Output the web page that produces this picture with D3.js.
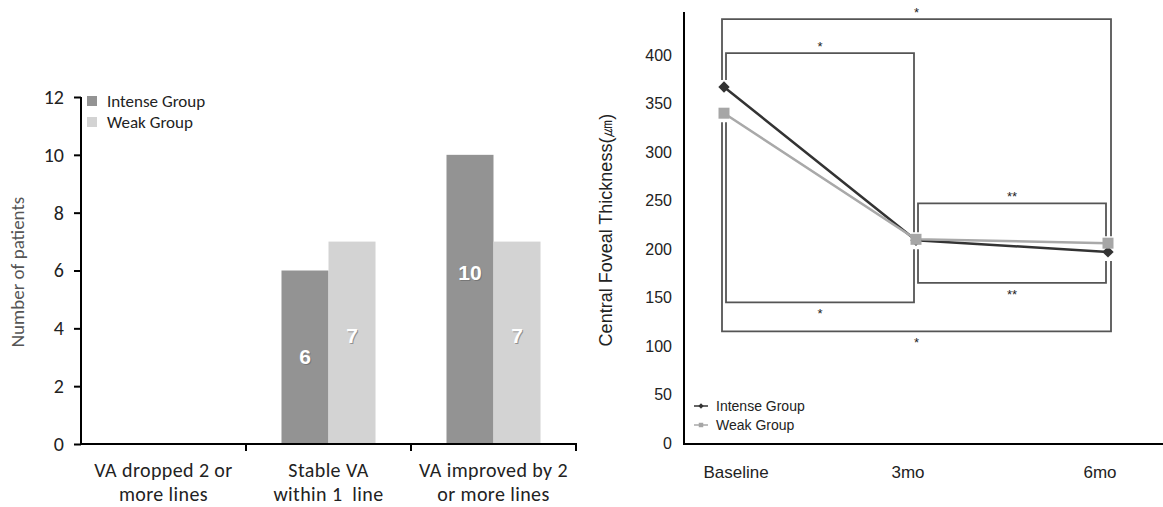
<!DOCTYPE html>
<html lang="en">
<head>
<meta charset="UTF-8">
<script src="https://cdn.jsdelivr.net/npm/d3@7"></script>
<title>VA change and central foveal thickness</title>
<style>
    body { margin:0; background:#fff; }
    .cal { font-family: Carlito, Calibri, Lato, sans-serif; }
    .ari { font-family: "Liberation Sans", Arial, sans-serif; }
    .pre { white-space: pre; }
</style>
</head>
<body>
<div id="chart"></div>
<script>

// left chart data
var categories = [["VA dropped 2 or", "more lines"], ["Stable VA", "within 1  line"], ["VA improved by 2", "or more lines"]];
var groups = ["Intense Group", "Weak Group"];
var intenseCounts = [0, 6, 10];
var weakCounts = [0, 7, 7];
var countTicks = [0, 2, 4, 6, 8, 10, 12];

// right chart data
var times = ["Baseline", "3mo", "6mo"];
var intenseCFT = [367, 209, 197];
var weakCFT = [340, 210, 206];
var cftTicks = [0, 50, 100, 150, 200, 250, 300, 350, 400];
// significance brackets: from, to, level (in um), label
var brackets = [
    ["Baseline", "6mo", 437, "*"],
    ["Baseline", "3mo", 402, "*"],
    ["3mo", "6mo", 247, "**"],
    ["3mo", "6mo", 165, "**"],
    ["Baseline", "3mo", 145, "*"],
    ["Baseline", "6mo", 115, "*"]
];

var barColor = ["#939393", "#d3d3d3"];
var lineColor = ["#333333", "#a9a9a9"];

var svg = d3.select("#chart").append("svg")
    .attr("width", 1163)
    .attr("height", 507);

// ---------- left: bar chart ----------
var catKeys = categories.map(function(c) { return c.join(" "); });
var xL = d3.scaleBand().domain(catKeys).range([81, 576]);
var xSub = d3.scaleBand().domain(groups).range([0, xL.bandwidth()]).paddingOuter(0.755);
var yL = d3.scaleLinear().domain([0, 12]).range([444, 97]);

var left = svg.append("g").attr("class", "cal");

var barRows = [];
catKeys.forEach(function(k, i) {
    barRows.push({cat: k, g: groups[0], v: intenseCounts[i], c: barColor[0]});
    barRows.push({cat: k, g: groups[1], v: weakCounts[i], c: barColor[1]});
});

left.selectAll(".bar")
    .data(barRows)
    .enter()
    .append("rect")
    .attr("class", "bar")
    .attr("x", function(d) { return xL(d.cat) + xSub(d.g); })
    .attr("width", xSub.bandwidth())
    .attr("y", function(d) { return yL(d.v); })
    .attr("height", function(d) { return yL(0) - yL(d.v); })
    .attr("fill", function(d) { return d.c; });

// value labels inside bars
var labelRows = barRows.filter(function(d) { return d.v > 0; });
function labelY(d) { return yL(d.v / 2) - (d.v - 6) * 6.5 + 7; }
left.selectAll(".lblshadow")
    .data(labelRows)
    .enter()
    .append("text")
    .attr("class", "ari")
    .attr("x", function(d) { return xL(d.cat) + xSub(d.g) + xSub.bandwidth() / 2 + 1; })
    .attr("y", function(d) { return labelY(d) + 1; })
    .attr("text-anchor", "middle")
    .attr("font-size", 21)
    .attr("font-weight", "bold")
    .attr("fill", "#666")
    .attr("opacity", 0.6)
    .text(function(d) { return d.v; });
left.selectAll(".lbl")
    .data(labelRows)
    .enter()
    .append("text")
    .attr("class", "ari")
    .attr("x", function(d) { return xL(d.cat) + xSub(d.g) + xSub.bandwidth() / 2; })
    .attr("y", labelY)
    .attr("text-anchor", "middle")
    .attr("font-size", 21)
    .attr("font-weight", "bold")
    .attr("fill", "#fff")
    .text(function(d) { return d.v; });

// y axis
var yAxisL = d3.axisLeft(yL).tickValues(countTicks).tickSize(7).tickPadding(10);
var gyL = left.append("g")
    .attr("transform", "translate(81,0)")
    .call(yAxisL);
gyL.select(".domain").attr("d", "M0," + yL(12) + "V" + yL(0)).attr("stroke", "#000").attr("stroke-width", 2);
gyL.selectAll(".tick line").attr("stroke", "#000").attr("stroke-width", 2);
gyL.selectAll(".tick text").attr("font-size", 20).attr("fill", "#222").attr("font-family", "Carlito, Calibri, Lato, sans-serif");

// x axis line and ticks at band edges
left.append("line")
    .attr("x1", 80).attr("x2", 577)
    .attr("y1", yL(0)).attr("y2", yL(0))
    .attr("stroke", "#000").attr("stroke-width", 2);
left.selectAll(".xtick")
    .data(catKeys)
    .enter()
    .append("line")
    .attr("x1", function(d) { return xL(d) + xL.bandwidth(); })
    .attr("x2", function(d) { return xL(d) + xL.bandwidth(); })
    .attr("y1", yL(0)).attr("y2", yL(0) + 7)
    .attr("stroke", "#000").attr("stroke-width", 2);

// category labels
var catText = left.selectAll(".cat")
    .data(categories)
    .enter()
    .append("text")
    .attr("class", "pre")
    .attr("text-anchor", "middle")
    .attr("font-size", 20)
    .attr("letter-spacing", 0.4)
    .attr("fill", "#222");
catText.append("tspan")
    .attr("x", function(d, i) { return xL(catKeys[i]) + xL.bandwidth() / 2; })
    .attr("y", 477)
    .text(function(d) { return d[0]; });
catText.append("tspan")
    .attr("x", function(d, i) { return xL(catKeys[i]) + xL.bandwidth() / 2; })
    .attr("y", 501)
    .text(function(d) { return d[1]; });

left.append("text")
    .attr("transform", "translate(24,272) rotate(-90)")
    .attr("text-anchor", "middle")
    .attr("font-size", 19)
    .attr("fill", "#555")
    .text("Number of patients");

// legend
var legL = left.selectAll(".legL")
    .data(groups)
    .enter()
    .append("g")
    .attr("transform", function(d, i) { return "translate(87," + (96 + i * 21) + ")"; });
legL.append("rect").attr("width", 10).attr("height", 10)
    .attr("fill", function(d, i) { return barColor[i]; });
legL.append("text").attr("x", 20).attr("y", 11)
    .attr("font-size", 17).attr("fill", "#222")
    .text(function(d) { return d; });

// ---------- right: line chart ----------
var xR = d3.scalePoint().domain(times).range([724, 1108]);
var yR = d3.scaleLinear().domain([0, 400]).range([443, 55]);

var right = svg.append("g").attr("class", "ari");

var yAxisR = d3.axisLeft(yR).tickValues(cftTicks).tickSize(0).tickPadding(12);
var gyR = right.append("g")
    .attr("transform", "translate(684,0)")
    .call(yAxisR);
gyR.select(".domain").attr("d", "M0,12V" + yR(0)).attr("stroke", "#000").attr("stroke-width", 2);
gyR.selectAll(".tick text").attr("font-size", 16).attr("fill", "#222").attr("font-family", "Liberation Sans, Arial, sans-serif");

right.append("line")
    .attr("x1", 683).attr("x2", 1163)
    .attr("y1", yR(0) + 1).attr("y2", yR(0) + 1)
    .attr("stroke", "#000").attr("stroke-width", 2);

right.selectAll(".tlab")
    .data(times)
    .enter()
    .append("text")
    .attr("x", function(d, i) { return xR(d) + [12, -8, -8][i]; })
    .attr("y", 478)
    .attr("text-anchor", "middle")
    .attr("font-size", 17)
    .attr("fill", "#222")
    .text(function(d) { return d; });

right.append("text")
    .attr("transform", "translate(612,230) rotate(-90)")
    .attr("text-anchor", "middle")
    .attr("font-size", 18)
    .attr("fill", "#222")
    .text("Central Foveal Thickness(㎛)");

// brackets
var valAt = {};
times.forEach(function(t, i) { valAt[t] = [intenseCFT[i], weakCFT[i]]; });

brackets.forEach(function(b) {
    var span = times.indexOf(b[1]) - times.indexOf(b[0]);
    var x1 = xR(b[0]) + (span === 2 ? -2 : 2);
    var x2 = xR(b[1]) + (span === 2 ? 3 : -2);
    var yb = yR(b[2]);
    var above = b[2] > d3.max(valAt[b[0]].concat(valAt[b[1]]));
    function endY(t) {
        return above ? yR(d3.max(valAt[t])) - 7 : yR(d3.min(valAt[t])) + 9;
    }
    right.append("path")
        .attr("d", "M" + x1 + "," + endY(b[0]) + "V" + yb + "H" + x2 + "V" + endY(b[1]))
        .attr("fill", "none")
        .attr("stroke", "#555")
        .attr("stroke-width", 1.8);
    right.append("text")
        .attr("x", (x1 + x2) / 2)
        .attr("y", above ? yb - 2 : yb + 16)
        .attr("text-anchor", "middle")
        .attr("font-size", 13)
        .attr("fill", "#222")
        .text(b[3]);
});

var line = d3.line()
    .x(function(d, i) { return xR(times[i]); })
    .y(function(d) { return yR(d); });

right.append("path").datum(intenseCFT).attr("d", line)
    .attr("fill", "none").attr("stroke", lineColor[0]).attr("stroke-width", 2.5);
right.append("path").datum(weakCFT).attr("d", line)
    .attr("fill", "none").attr("stroke", lineColor[1]).attr("stroke-width", 2.5);

var diamond = d3.symbol().type(d3.symbolSquare).size(64);
var square = d3.symbol().type(d3.symbolSquare).size(121);

right.selectAll(".dia")
    .data(intenseCFT)
    .enter()
    .append("path")
    .attr("d", diamond)
    .attr("transform", function(d, i) { return "translate(" + xR(times[i]) + "," + yR(d) + ") rotate(45)"; })
    .attr("fill", lineColor[0]);
right.selectAll(".sq")
    .data(weakCFT)
    .enter()
    .append("path")
    .attr("d", square)
    .attr("transform", function(d, i) { return "translate(" + xR(times[i]) + "," + yR(d) + ")"; })
    .attr("fill", "#a6a6a6");

// legend
var legR = right.selectAll(".legR")
    .data(groups)
    .enter()
    .append("g")
    .attr("transform", function(d, i) { return "translate(694," + (406 + i * 19) + ")"; });
legR.append("line").attr("x1", 0).attr("x2", 14)
    .attr("stroke", function(d, i) { return lineColor[i]; }).attr("stroke-width", 1.5);
legR.append("path")
    .attr("d", function(d, i) { return d3.symbol().type(d3.symbolSquare).size(i ? 20 : 14)(); })
    .attr("transform", function(d, i) { return "translate(7,0)" + (i ? "" : " rotate(45)"); })
    .attr("fill", function(d, i) { return i ? "#a6a6a6" : lineColor[0]; });
legR.append("text").attr("x", 22).attr("y", 5)
    .attr("font-size", 14).attr("fill", "#222")
    .text(function(d) { return d; });

</script>
</body>
</html>
